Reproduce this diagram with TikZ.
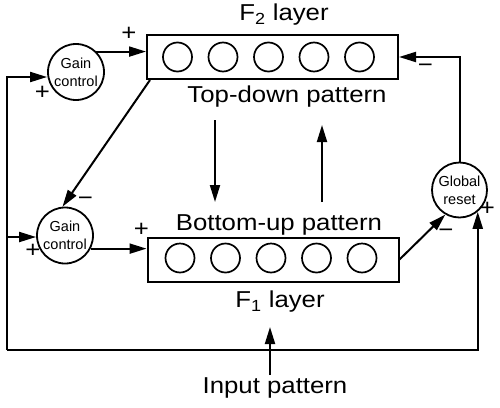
\documentclass[tikz,border=0pt]{standalone}
\usepackage{fontspec}
\setmainfont{Liberation Sans}
\newfontfamily\labelfont[FakeStretch=1.12]{Liberation Sans}
\usepackage{tikz}
\usetikzlibrary{arrows.meta,shapes,positioning}
\tikzstyle{arrow} = [line width=2pt,-{Triangle[length=17pt,width=10pt]}]
\tikzstyle{layer} = [draw,line width=2pt,minimum width=251pt,minimum height=44pt,inner sep=0pt]
\tikzstyle{unit} = [draw,circle,line width=1.7pt,minimum size=29pt,inner sep=0pt]
\tikzstyle{ctrl} = [draw,circle,line width=1.8pt,minimum size=56pt,inner sep=0pt,align=center,font=\fontsize{14.5}{18}\selectfont]
\tikzstyle{txt} = [inner sep=2pt,font=\labelfont\fontsize{23}{27}\selectfont]
\tikzstyle{sign} = [inner sep=0pt,font=\labelfont\fontsize{23}{27}\selectfont]

\begin{document}
\begin{tikzpicture}[x=1pt,y=-1pt]
\useasboundingbox (0,0) rectangle (500,407);
% F2 layer
\node[layer] (f2) at (272.5,57) {};
\foreach \i in {0,...,4}
  \node[unit] (f2u\i) at (177.5+45.5*\i,57) {};
\node[txt] (f2name) at (284,15) {F\textsubscript{2} layer};
\node[txt] (topdown) at (287,97) {Top-down pattern};

% F1 layer
\node[layer] (f1) at (273,259.5) {};
\foreach \i in {0,...,4}
  \node[unit] (f1u\i) at (180+45.5*\i,258) {};
\node[txt] (bottomup) at (279,225) {Bottom-up pattern};
\node[txt] (f1name) at (280,302) {F\textsubscript{1} layer};

% control units
\node[ctrl] (gaintop) at (76,72) {Gain\\control};
\node[ctrl] (gainbot) at (65,235.5) {Gain\\control};
\node[ctrl,minimum size=55pt] (reset) at (459.5,190) {Global\\reset};

% input
\node[txt] (input) at (275,387.5) {Input pattern};

\coordinate (lt) at (7,77);
\coordinate (lm) at (7,237);
\coordinate (lb) at (7,350);
\coordinate (dn1) at (215,120);
\coordinate (dn2) at (215,202);
\coordinate (up1) at (322,202);
\coordinate (up2) at (322,125);
\coordinate (in2) at (270,327);

% connections
\draw[arrow] (gaintop.45) -- (gaintop.45 -| f2.west);
\draw[arrow] (lb) -- (lt) -- (lt -| gaintop.west);
\draw[arrow] (lm) -- (lm -| gainbot.west);
\draw[arrow] (lb) -| (reset.-50);
\draw[arrow] ([xshift=4pt]f2.south west) -- (gainbot.95);
\draw[arrow] (gainbot.-27) -- (gainbot.-27 -| f1.west);
\draw[arrow] (f1.east) -- (reset.240);
\draw[arrow] (reset.north) |- (f2.east);
\draw[arrow] (dn1) -- (dn2);
\draw[arrow] (up1) -- (up2);
\draw[arrow] (input.north -| in2) -- (in2);

% signs
\node[sign] (s1) at (129,34) {+};
\node[sign] (s2) at (42.5,93) {+};
\node[sign] (s3) at (425.5,68) {−};
\node[sign] (s4) at (85.5,201) {−};
\node[sign] (s5) at (33,250.5) {+};
\node[sign] (s6) at (141.5,230) {+};
\node[sign] (s7) at (446,233) {−};
\node[sign] (s8) at (487.5,209) {+};
\end{tikzpicture}
\end{document}
